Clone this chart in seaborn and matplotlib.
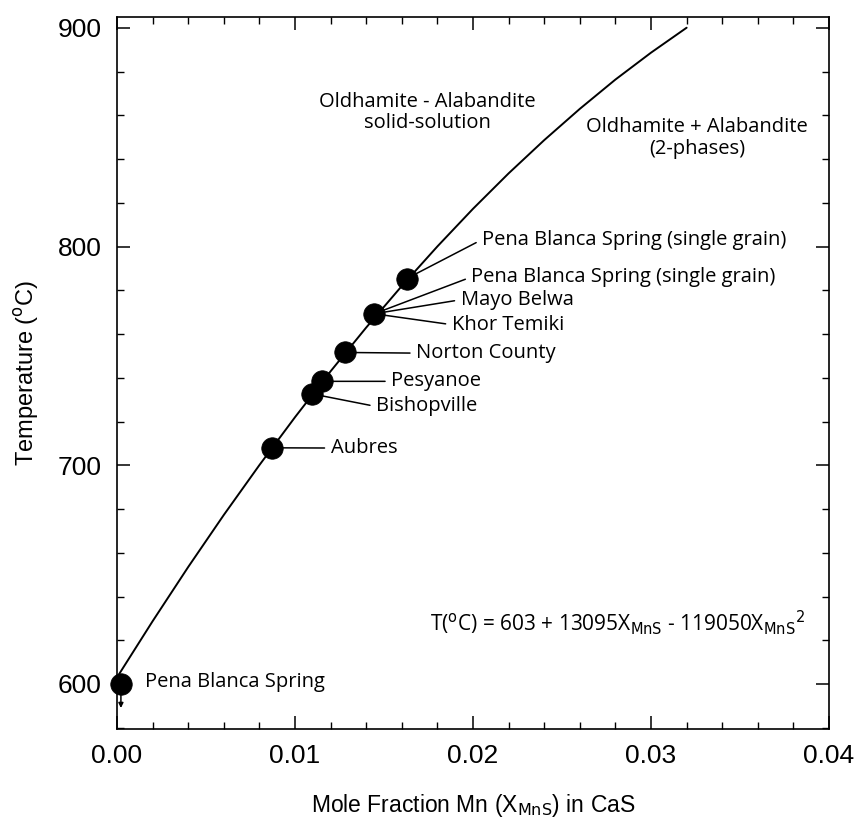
import numpy as np
import pandas as pd
import matplotlib.pyplot as plt
import seaborn as sns
from matplotlib.ticker import MultipleLocator

# curve (solvus line)
curve_x = [0.0, 0.002, 0.004, 0.006, 0.008, 0.010, 0.012, 0.014, 0.016,
           0.018, 0.020, 0.022, 0.024, 0.026, 0.028, 0.030, 0.032]
curve_t = [603, 628.7, 653.5, 677.3, 700.1, 722.0, 743.0, 763.0, 782.0,
           800.1, 817.3, 833.5, 848.7, 863.0, 876.4, 888.7, 900.1]

# meteorite points
pt_x = [0.00022, 0.00873, 0.01093, 0.01153, 0.01283, 0.01445, 0.01628]
pt_t = [600, 708, 732.7, 738.4, 751.6, 769.3, 785.4]

# labels: text, point index, text position
lab_text = ["Pena Blanca Spring (single grain)", "Pena Blanca Spring (single grain)",
            "Mayo Belwa", "Khor Temiki", "Norton County", "Pesyanoe",
            "Bishopville", "Aubres"]
lab_pt = [6, 5, 5, 5, 4, 3, 2, 1]
lab_x = [0.0205, 0.0199, 0.0193, 0.0188, 0.0168, 0.0154, 0.01455, 0.0120]
lab_t = [803.2, 786.1, 775.7, 764.3, 751.3, 738.4, 726.9, 707.9]

sns.set_theme(style="ticks")
plt.rcParams['font.family'] = ['Liberation Sans', 'DejaVu Sans']
plt.rcParams['text.color'] = 'black'
plt.rcParams['axes.labelcolor'] = 'black'
lab_font = ['Open Sans', 'DejaVu Sans']
fs = 14.5

fig = plt.figure(figsize=(8.59, 8.22), dpi=100)
ax = fig.add_axes([0.1362, 0.1131, 0.9651 - 0.1362, 0.9793 - 0.1131])

df_curve = pd.DataFrame({"x": curve_x, "t": curve_t})
sns.lineplot(data=df_curve, x="x", y="t", ax=ax, color="black", linewidth=1.4, zorder=2)

df_pts = pd.DataFrame({"x": pt_x, "t": pt_t})
sns.scatterplot(data=df_pts, x="x", y="t", ax=ax, color="black", s=240,
                edgecolor="black", linewidth=0.5, zorder=4, clip_on=False)

# leader lines
for txt, i, tx, tt in zip(lab_text, lab_pt, lab_x, lab_t):
    ax.annotate(txt, xy=(pt_x[i], pt_t[i]), xytext=(tx, tt), ha="left", va="center",
                fontsize=fs, family=lab_font,
                arrowprops=dict(arrowstyle="-", color="black", lw=1.1,
                                shrinkA=2, shrinkB=0, relpos=(0, 0.5)), zorder=3)

# bottom point: upper-limit arrow
ax.annotate("", xy=(pt_x[0], 589), xytext=(pt_x[0], 600),
            arrowprops=dict(arrowstyle="-|>", color="black", lw=1.1,
                            mutation_scale=7, shrinkA=0, shrinkB=0), zorder=3)
ax.text(0.0016, 600.8, "Pena Blanca Spring", ha="left", va="center",
        fontsize=fs, family=lab_font)

ax.text(0.01742, 861.4, "Oldhamite - Alabandite\nsolid-solution", ha="center", va="center",
        fontsize=fs, family=lab_font, linespacing=1.1)
ax.text(0.0326, 849.6, "Oldhamite + Alabandite\n(2-phases)", ha="center", va="center",
        fontsize=fs, family=lab_font, linespacing=1.1)
ax.text(0.0176, 628, r"T($^{\rm o}$C) = 603 + 13095X$_{\rm MnS}$ - 119050X$_{\rm MnS}$$^2$",
        ha="left", va="center", fontsize=15, family=lab_font)

ax.set_xlim(0, 0.04)
ax.set_ylim(579.4, 905)
ax.xaxis.set_major_locator(MultipleLocator(0.01))
ax.xaxis.set_minor_locator(MultipleLocator(0.002))
ax.yaxis.set_major_locator(MultipleLocator(100))
ax.yaxis.set_minor_locator(MultipleLocator(20))
ax.set_xticks([0, 0.01, 0.02, 0.03, 0.04])
ax.set_xticklabels(["0.00", "0.01", "0.02", "0.03", "0.04"])
ax.tick_params(which="both", direction="in", top=True, right=True, colors="black")
ax.tick_params(which="major", length=9.5, width=1.1, labelsize=19, pad=11)
ax.tick_params(which="minor", length=5, width=1.0)
for s in ax.spines.values():
    s.set_linewidth(1.2)
    s.set_color("black")

ax.set_xlabel(r"Mole Fraction Mn (X$_{\rm MnS}$) in CaS", fontsize=16.5, labelpad=17)
ax.set_ylabel(r"Temperature ($^{\rm o}$C)", fontsize=17, labelpad=12)

fig.savefig("out.png", dpi=100)
